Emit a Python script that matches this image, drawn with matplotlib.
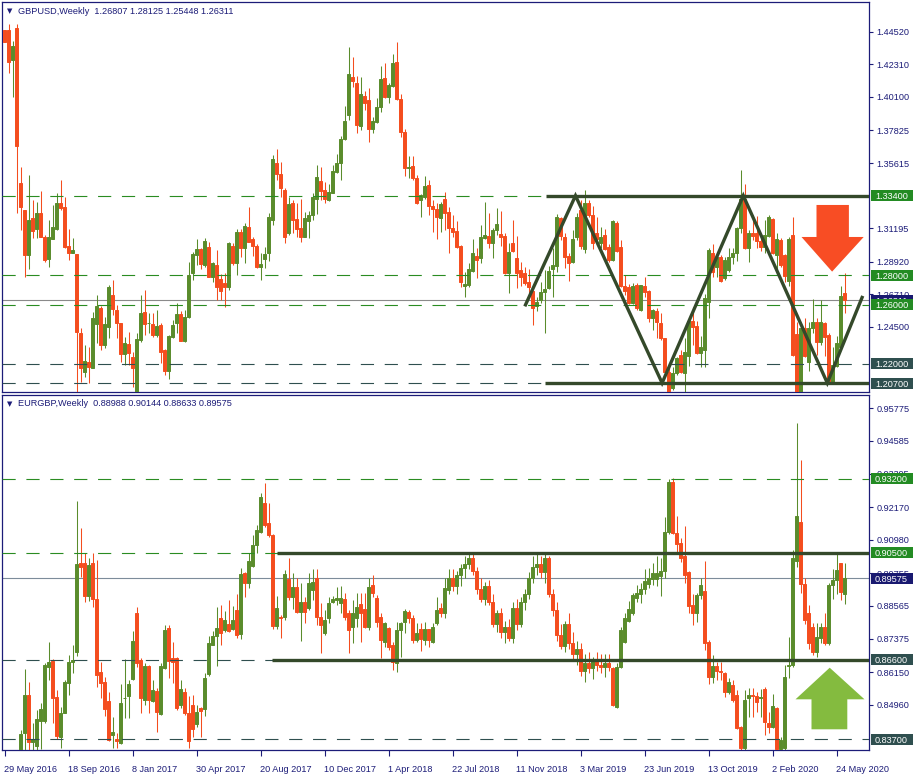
import numpy as np
import matplotlib
matplotlib.use('Agg')
import matplotlib.pyplot as plt
from matplotlib.patches import Polygon, Rectangle
from matplotlib.transforms import blended_transform_factory

# ---- GBPUSD weekly (index 0 = week of 29 May 2016) ----
gbp_open = [
    1.4464, 1.4464, 1.4260, 1.4475, 1.3426, 1.3243, 1.2938, 1.3187, 1.3114, 1.3221,
    1.3062, 1.2913, 1.3044, 1.3114, 1.3293, 1.3264, 1.2999, 1.2954, 1.2945, 1.2411,
    1.2147, 1.2215, 1.2174, 1.2470, 1.2581, 1.2328, 1.2452, 1.2667, 1.2565, 1.2479,
    1.2267, 1.2335, 1.2244, 1.2005, 1.2362, 1.2554, 1.2475, 1.2470, 1.2396, 1.2463,
    1.2294, 1.2154, 1.2380, 1.2479, 1.2536, 1.2357, 1.2520, 1.2818, 1.2938, 1.2977,
    1.2870, 1.2990, 1.2791, 1.2870, 1.2773, 1.2751, 1.2723, 1.2999, 1.2882, 1.3094,
    1.2983, 1.3130, 1.3044, 1.2999, 1.2859, 1.2909, 1.2954, 1.3175, 1.3564, 1.3485,
    1.3379, 1.3089, 1.3288, 1.3182, 1.3121, 1.3062, 1.3171, 1.3209, 1.3316, 1.3440,
    1.3379, 1.3311, 1.3361, 1.3503, 1.3560, 1.3722, 1.3887, 1.4143, 1.4102, 1.3813,
    1.4016, 1.3989, 1.3790, 1.3842, 1.3939, 1.4136, 1.4012, 1.4084, 1.4247, 1.3994,
    1.3772, 1.3526, 1.3542, 1.3458, 1.3311, 1.3334, 1.3410, 1.3270, 1.3250, 1.3187,
    1.3316, 1.3230, 1.3119, 1.3103, 1.2999, 1.2728, 1.2735, 1.2832, 1.2931, 1.2915,
    1.3051, 1.3067, 1.3022, 1.3108, 1.3080, 1.3067, 1.2814, 1.3017, 1.2915, 1.2836,
    1.2818, 1.2757, 1.2696, 1.2592, 1.2633, 1.2685, 1.2712, 1.2841, 1.2863, 1.3187,
    1.3058, 1.2931, 1.2893, 1.3062, 1.3243, 1.2977, 1.3293, 1.3209, 1.3085, 1.3022,
    1.3074, 1.2990, 1.2904, 1.3157, 1.2990, 1.2728, 1.2719, 1.2615, 1.2735, 1.2565,
    1.2728, 1.2694, 1.2509, 1.2561, 1.2479, 1.2373, 1.2147, 1.2034, 1.2140, 1.2260,
    1.2140, 1.2253, 1.2493, 1.2457, 1.2276, 1.2294, 1.2622, 1.2949, 1.2859, 1.2927,
    1.2780, 1.2836, 1.2927, 1.2950, 1.3119, 1.3316, 1.2983, 1.3085, 1.3085, 1.3035,
    1.2990, 1.3067, 1.3180, 1.2938, 1.3040, 1.2938, 1.2764, 1.3074, 1.2400, 1.1630,
    1.2441, 1.2215, 1.2441, 1.2486, 1.2351, 1.2479, 1.2396, 1.2079, 1.2186, 1.2317,
    1.26807]
gbp_high = [
    1.4464, 1.4504, 1.4389, 1.4504, 1.3537, 1.3243, 1.3480, 1.3311, 1.3295, 1.3372,
    1.3074, 1.3175, 1.3279, 1.3356, 1.3447, 1.3334, 1.3112, 1.3051, 1.2945, 1.2441,
    1.2328, 1.2317, 1.2549, 1.2667, 1.2592, 1.2520, 1.2735, 1.2769, 1.2599, 1.2479,
    1.2380, 1.2418, 1.2283, 1.2407, 1.2667, 1.2701, 1.2543, 1.2543, 1.2565, 1.2475,
    1.2298, 1.2396, 1.2497, 1.2615, 1.2558, 1.2565, 1.2893, 1.2961, 1.3044, 1.2983,
    1.3051, 1.3029, 1.2893, 1.2972, 1.2809, 1.2814, 1.3029, 1.3017, 1.3112, 1.3112,
    1.3157, 1.3266, 1.3058, 1.3010, 1.2949, 1.2990, 1.3225, 1.3616, 1.3654, 1.3566,
    1.3390, 1.3334, 1.3311, 1.3288, 1.3316, 1.3230, 1.3239, 1.3361, 1.3548, 1.3537,
    1.3435, 1.3420, 1.3548, 1.3621, 1.3745, 1.3948, 1.4351, 1.4278, 1.4152, 1.4143,
    1.4052, 1.4068, 1.3876, 1.4000, 1.4220, 1.4242, 1.4107, 1.4301, 1.4382, 1.4030,
    1.3790, 1.3612, 1.3609, 1.3480, 1.3352, 1.3474, 1.3447, 1.3311, 1.3288, 1.3295,
    1.3365, 1.3266, 1.3209, 1.3171, 1.3006, 1.2825, 1.2882, 1.3044, 1.2983, 1.3142,
    1.3300, 1.3221, 1.3119, 1.3255, 1.3236, 1.3085, 1.3022, 1.3175, 1.3067, 1.2893,
    1.2859, 1.2841, 1.2701, 1.2656, 1.2757, 1.2836, 1.2866, 1.2983, 1.3216, 1.3198,
    1.3085, 1.2949, 1.3108, 1.3221, 1.3311, 1.3379, 1.3311, 1.3270, 1.3198, 1.3126,
    1.3112, 1.3010, 1.3175, 1.3171, 1.3040, 1.2803, 1.2741, 1.2751, 1.2751, 1.2735,
    1.2787, 1.2701, 1.2570, 1.2577, 1.2543, 1.2373, 1.2181, 1.2181, 1.2249, 1.2294,
    1.2373, 1.2502, 1.2583, 1.2493, 1.2389, 1.2674, 1.2983, 1.3013, 1.2949, 1.2938,
    1.2927, 1.2983, 1.2983, 1.3130, 1.3514, 1.3420, 1.3108, 1.3209, 1.3203, 1.3074,
    1.3175, 1.3209, 1.3187, 1.3085, 1.3051, 1.2945, 1.3058, 1.3194, 1.2485, 1.2452,
    1.2509, 1.2486, 1.2637, 1.2509, 1.2633, 1.2486, 1.2407, 1.2317, 1.2389, 1.2728,
    1.28125]
gbp_low = [
    1.4384, 1.4174, 1.4012, 1.3221, 1.3108, 1.2787, 1.2841, 1.3051, 1.3051, 1.3058,
    1.2888, 1.2859, 1.3044, 1.3108, 1.3243, 1.2983, 1.2904, 1.2949, 1.1841, 1.2079,
    1.2113, 1.2073, 1.2170, 1.2339, 1.2294, 1.2305, 1.2373, 1.2531, 1.2373, 1.2215,
    1.2192, 1.2192, 1.2045, 1.1986, 1.2351, 1.2396, 1.2407, 1.2384, 1.2384, 1.2204,
    1.2125, 1.2095, 1.2373, 1.2407, 1.2357, 1.2351, 1.2509, 1.2769, 1.2870, 1.2841,
    1.2859, 1.2787, 1.2757, 1.2633, 1.2633, 1.2588, 1.2701, 1.2870, 1.2803, 1.2927,
    1.2882, 1.3029, 1.2931, 1.2848, 1.2769, 1.2848, 1.2900, 1.3142, 1.3447, 1.3334,
    1.3022, 1.3074, 1.3085, 1.3062, 1.3029, 1.3058, 1.3056, 1.3175, 1.3214, 1.3311,
    1.3288, 1.3306, 1.3356, 1.3492, 1.3447, 1.3718, 1.3853, 1.4079, 1.3763, 1.3786,
    1.3921, 1.3707, 1.3763, 1.3835, 1.3910, 1.4000, 1.3966, 1.4075, 1.3989, 1.3740,
    1.3474, 1.3458, 1.3447, 1.3284, 1.3198, 1.3316, 1.3209, 1.3096, 1.3044, 1.3092,
    1.3108, 1.2949, 1.3062, 1.2983, 1.2719, 1.2651, 1.2719, 1.2825, 1.2780, 1.2886,
    1.3044, 1.2983, 1.2915, 1.3074, 1.2999, 1.2809, 1.2683, 1.2961, 1.2712, 1.2728,
    1.2735, 1.2678, 1.2463, 1.2561, 1.2611, 1.2407, 1.2705, 1.2656, 1.2825, 1.3040,
    1.2848, 1.2764, 1.2882, 1.3040, 1.2977, 1.2954, 1.3198, 1.2977, 1.3029, 1.2983,
    1.2972, 1.2893, 1.2900, 1.2961, 1.2723, 1.2667, 1.2606, 1.2606, 1.2565, 1.2561,
    1.2656, 1.2486, 1.2430, 1.2373, 1.2362, 1.2136, 1.2005, 1.2023, 1.2125, 1.2136,
    1.2005, 1.2186, 1.2328, 1.2267, 1.2181, 1.2181, 1.2509, 1.2791, 1.2791, 1.2757,
    1.2769, 1.2825, 1.2880, 1.2900, 1.3085, 1.2977, 1.2893, 1.3040, 1.2983, 1.2967,
    1.2949, 1.3062, 1.2945, 1.2841, 1.2859, 1.2757, 1.2728, 1.2253, 1.1409, 1.1450,
    1.2249, 1.2154, 1.2407, 1.2260, 1.2328, 1.2253, 1.2073, 1.2068, 1.2181, 1.2305,
    1.25448]
gbp_close = [
    1.4384, 1.4249, 1.4355, 1.3679, 1.3261, 1.2938, 1.3175, 1.3101, 1.3225, 1.3062,
    1.2904, 1.3062, 1.3130, 1.3293, 1.3255, 1.2990, 1.2954, 1.2972, 1.2418, 1.2174,
    1.2219, 1.2181, 1.2513, 1.2592, 1.2328, 1.2468, 1.2723, 1.2570, 1.2479, 1.2267,
    1.2339, 1.2276, 1.2170, 1.2366, 1.2543, 1.2470, 1.2479, 1.2396, 1.2457, 1.2283,
    1.2154, 1.2389, 1.2463, 1.2536, 1.2357, 1.2520, 1.2803, 1.2945, 1.2977, 1.2877,
    1.3035, 1.2791, 1.2882, 1.2723, 1.2696, 1.2719, 1.3017, 1.2882, 1.3096, 1.2983,
    1.3135, 1.3029, 1.2999, 1.2859, 1.2877, 1.2945, 1.3194, 1.3587, 1.3485, 1.3390,
    1.3062, 1.3284, 1.3175, 1.3114, 1.3062, 1.3187, 1.3209, 1.3334, 1.3465, 1.3372,
    1.3318, 1.3363, 1.3508, 1.3560, 1.3722, 1.3847, 1.4165, 1.4120, 1.3820, 1.4030,
    1.3966, 1.3790, 1.3847, 1.3939, 1.4131, 1.4007, 1.4091, 1.4242, 1.3994, 1.3774,
    1.3526, 1.3537, 1.3458, 1.3288, 1.3345, 1.3406, 1.3273, 1.3252, 1.3198, 1.3284,
    1.3225, 1.3119, 1.3092, 1.2995, 1.2757, 1.2742, 1.2843, 1.2954, 1.2904, 1.3058,
    1.3074, 1.3022, 1.3108, 1.3148, 1.3058, 1.2818, 1.2961, 1.2967, 1.2818, 1.2791,
    1.2746, 1.2719, 1.2577, 1.2622, 1.2690, 1.2710, 1.2832, 1.2870, 1.3198, 1.3067,
    1.2927, 1.2882, 1.3044, 1.3194, 1.2999, 1.3288, 1.3209, 1.3022, 1.3044, 1.3058,
    1.2977, 1.2904, 1.3171, 1.2967, 1.2728, 1.2696, 1.2615, 1.2728, 1.2577, 1.2735,
    1.2690, 1.2509, 1.2565, 1.2486, 1.2373, 1.2147, 1.2012, 1.2140, 1.2238, 1.2147,
    1.2283, 1.2493, 1.2452, 1.2271, 1.2317, 1.2644, 1.2972, 1.2825, 1.2927, 1.2764,
    1.2904, 1.2927, 1.2950, 1.3119, 1.3316, 1.2983, 1.3085, 1.3067, 1.3035, 1.2990,
    1.3074, 1.3198, 1.2949, 1.3044, 1.2870, 1.2796, 1.3044, 1.2260, 1.1630, 1.2441,
    1.2253, 1.2441, 1.2486, 1.2351, 1.2486, 1.2384, 1.2079, 1.2192, 1.2339, 1.2660,
    1.26311]

# ---- EURGBP weekly ----
eur_open = [
    0.7630, 0.7610, 0.7870, 0.7640, 0.8230, 0.8394, 0.8532, 0.8361, 0.8346, 0.8437,
    0.8438, 0.8635, 0.8657, 0.8524, 0.8380, 0.8467, 0.8577, 0.8653, 0.8690, 0.9012,
    0.9012, 0.8894, 0.9012, 0.8881, 0.8617, 0.8578, 0.8510, 0.8386, 0.8370, 0.8355,
    0.8519, 0.8528, 0.8589, 0.8832, 0.8659, 0.8513, 0.8637, 0.8511, 0.8546, 0.8462,
    0.8629, 0.8775, 0.8665, 0.8665, 0.8495, 0.8544, 0.8467, 0.8495, 0.8425, 0.8483,
    0.8479, 0.8608, 0.8714, 0.8747, 0.8811, 0.8769, 0.8791, 0.8771, 0.8842, 0.8754,
    0.8978, 0.8939, 0.9002, 0.9079, 0.9128, 0.9233, 0.9160, 0.9115, 0.8783, 0.8817,
    0.8815, 0.8954, 0.8890, 0.8927, 0.8836, 0.8872, 0.8848, 0.8915, 0.8960, 0.8815,
    0.8757, 0.8811, 0.8872, 0.8878, 0.8866, 0.8881, 0.8830, 0.8781, 0.8811, 0.8864,
    0.8844, 0.8781, 0.8933, 0.8884, 0.8815, 0.8726, 0.8775, 0.8714, 0.8649, 0.8769,
    0.8799, 0.8836, 0.8811, 0.8732, 0.8771, 0.8732, 0.8771, 0.8726, 0.8795, 0.8848,
    0.8830, 0.8915, 0.8960, 0.8930, 0.8970, 0.8995, 0.9010, 0.9030, 0.8985, 0.8920,
    0.8880, 0.8930, 0.8870, 0.8790, 0.8830, 0.8760, 0.8780, 0.8740, 0.8850, 0.8790,
    0.8870, 0.8900, 0.8960, 0.9000, 0.9010, 0.8980, 0.9030, 0.8900, 0.8840, 0.8750,
    0.8710, 0.8790, 0.8720, 0.8680, 0.8700, 0.8620, 0.8650, 0.8630, 0.8660, 0.8640,
    0.8633, 0.8647, 0.8629, 0.8489, 0.8633, 0.8726, 0.8803, 0.8830, 0.8884, 0.8900,
    0.8917, 0.8937, 0.8953, 0.8955, 0.8965, 0.8985, 0.9127, 0.9310, 0.9124, 0.9085,
    0.9039, 0.8981, 0.8860, 0.8830, 0.8896, 0.8911, 0.8726, 0.8598, 0.8637, 0.8620,
    0.8611, 0.8544, 0.8568, 0.8532, 0.8416, 0.8340, 0.8519, 0.8532, 0.8528, 0.8520,
    0.8552, 0.8431, 0.8416, 0.8483, 0.8335, 0.8340, 0.8637, 0.8641, 0.9020, 0.9164,
    0.8937, 0.8830, 0.8781, 0.8690, 0.8738, 0.8781, 0.8720, 0.8933, 0.8951, 0.9014,
    0.88988]
eur_high = [
    0.7700, 0.7890, 0.7950, 0.8311, 0.8404, 0.8625, 0.8579, 0.8428, 0.8477, 0.8501,
    0.8647, 0.8724, 0.8662, 0.8550, 0.8489, 0.8586, 0.8678, 0.8714, 0.9241, 0.9140,
    0.9051, 0.9030, 0.9048, 0.9024, 0.8653, 0.8599, 0.8544, 0.8453, 0.8392, 0.8572,
    0.8662, 0.8586, 0.8766, 0.8854, 0.8668, 0.8650, 0.8641, 0.8586, 0.8558, 0.8647,
    0.8787, 0.8787, 0.8726, 0.8672, 0.8586, 0.8556, 0.8528, 0.8532, 0.8495, 0.8489,
    0.8613, 0.8747, 0.8766, 0.8854, 0.8860, 0.8839, 0.8878, 0.8856, 0.8900, 0.8994,
    0.8982, 0.9048, 0.9115, 0.9152, 0.9267, 0.9304, 0.9231, 0.9119, 0.8893, 0.8823,
    0.8988, 0.9030, 0.8975, 0.8960, 0.8939, 0.8890, 0.8975, 0.8990, 0.8990, 0.8866,
    0.8842, 0.8890, 0.8893, 0.8927, 0.8929, 0.8903, 0.8842, 0.8878, 0.8903, 0.8903,
    0.8903, 0.8960, 0.8970, 0.8896, 0.8830, 0.8799, 0.8781, 0.8726, 0.8799, 0.8799,
    0.8844, 0.8842, 0.8823, 0.8793, 0.8793, 0.8799, 0.8771, 0.8793, 0.8890, 0.8866,
    0.8960, 0.8990, 0.8990, 0.8985, 0.9010, 0.9040, 0.9050, 0.9045, 0.9000, 0.8960,
    0.8945, 0.8950, 0.8900, 0.8840, 0.8850, 0.8800, 0.8810, 0.8870, 0.8880, 0.8890,
    0.8920, 0.8980, 0.9040, 0.9050, 0.9040, 0.9050, 0.9040, 0.8920, 0.8870, 0.8790,
    0.8800, 0.8830, 0.8760, 0.8730, 0.8720, 0.8680, 0.8690, 0.8670, 0.8690, 0.8680,
    0.8681, 0.8681, 0.8633, 0.8647, 0.8778, 0.8830, 0.8876, 0.8905, 0.8933, 0.8939,
    0.8990, 0.8994, 0.9012, 0.9040, 0.9030, 0.9180, 0.9318, 0.9322, 0.9185, 0.9103,
    0.9148, 0.8985, 0.8900, 0.8903, 0.8960, 0.9022, 0.8732, 0.8678, 0.8653, 0.8653,
    0.8617, 0.8592, 0.8586, 0.8550, 0.8420, 0.8550, 0.8556, 0.8558, 0.8544, 0.8552,
    0.8562, 0.8471, 0.8534, 0.8489, 0.8380, 0.8641, 0.8744, 0.9060, 0.9525, 0.9389,
    0.8960, 0.8860, 0.8793, 0.8793, 0.8793, 0.8830, 0.8939, 0.8990, 0.9048, 0.9014,
    0.90144]
eur_low = [
    0.7590, 0.7600, 0.7630, 0.7620, 0.8180, 0.8300, 0.8300, 0.8310, 0.8310, 0.8336,
    0.8428, 0.8586, 0.8428, 0.8370, 0.8337, 0.8465, 0.8532, 0.8611, 0.8675, 0.8963,
    0.8872, 0.8876, 0.8854, 0.8562, 0.8520, 0.8455, 0.8362, 0.8337, 0.8337, 0.8353,
    0.8447, 0.8447, 0.8586, 0.8635, 0.8467, 0.8495, 0.8467, 0.8507, 0.8398, 0.8459,
    0.8625, 0.8592, 0.8574, 0.8477, 0.8483, 0.8459, 0.8337, 0.8380, 0.8416, 0.8380,
    0.8455, 0.8601, 0.8714, 0.8637, 0.8714, 0.8763, 0.8763, 0.8769, 0.8738, 0.8735,
    0.8890, 0.8921, 0.9000, 0.9048, 0.9124, 0.9146, 0.9109, 0.8771, 0.8771, 0.8738,
    0.8805, 0.8878, 0.8844, 0.8830, 0.8730, 0.8793, 0.8842, 0.8878, 0.8787, 0.8686,
    0.8751, 0.8793, 0.8866, 0.8860, 0.8830, 0.8805, 0.8684, 0.8720, 0.8781, 0.8726,
    0.8775, 0.8769, 0.8890, 0.8781, 0.8665, 0.8708, 0.8696, 0.8623, 0.8617, 0.8671,
    0.8757, 0.8793, 0.8720, 0.8726, 0.8693, 0.8714, 0.8708, 0.8722, 0.8787, 0.8817,
    0.8811, 0.8900, 0.8910, 0.8900, 0.8930, 0.8960, 0.8990, 0.8970, 0.8900, 0.8870,
    0.8860, 0.8860, 0.8780, 0.8760, 0.8740, 0.8720, 0.8730, 0.8720, 0.8770, 0.8780,
    0.8840, 0.8880, 0.8940, 0.8970, 0.8960, 0.8940, 0.8890, 0.8820, 0.8730, 0.8700,
    0.8690, 0.8700, 0.8660, 0.8640, 0.8600, 0.8580, 0.8610, 0.8590, 0.8620, 0.8610,
    0.8598, 0.8620, 0.8491, 0.8485, 0.8629, 0.8720, 0.8799, 0.8823, 0.8872, 0.8868,
    0.8900, 0.8921, 0.8933, 0.8930, 0.8893, 0.8960, 0.9120, 0.9120, 0.9046, 0.9018,
    0.8939, 0.8830, 0.8787, 0.8799, 0.8880, 0.8696, 0.8572, 0.8574, 0.8586, 0.8586,
    0.8523, 0.8535, 0.8507, 0.8406, 0.8277, 0.8330, 0.8450, 0.8452, 0.8471, 0.8453,
    0.8386, 0.8392, 0.8410, 0.8300, 0.8310, 0.8320, 0.8592, 0.8635, 0.9000, 0.8902,
    0.8790, 0.8700, 0.8678, 0.8671, 0.8720, 0.8714, 0.8714, 0.8880, 0.8900, 0.8878,
    0.88633]
eur_close = [
    0.7610, 0.7870, 0.7640, 0.8230, 0.8389, 0.8532, 0.8361, 0.8370, 0.8444, 0.8479,
    0.8640, 0.8653, 0.8520, 0.8383, 0.8465, 0.8578, 0.8653, 0.8659, 0.9008, 0.8999,
    0.8894, 0.9006, 0.8882, 0.8605, 0.8574, 0.8479, 0.8368, 0.8398, 0.8365, 0.8504,
    0.8520, 0.8572, 0.8730, 0.8647, 0.8520, 0.8637, 0.8513, 0.8550, 0.8471, 0.8637,
    0.8769, 0.8657, 0.8653, 0.8483, 0.8552, 0.8467, 0.8365, 0.8406, 0.8471, 0.8475,
    0.8592, 0.8723, 0.8747, 0.8777, 0.8757, 0.8805, 0.8766, 0.8805, 0.8751, 0.8972,
    0.8939, 0.9022, 0.9079, 0.9134, 0.9255, 0.9152, 0.9115, 0.8783, 0.8848, 0.8811,
    0.8973, 0.8890, 0.8927, 0.8836, 0.8872, 0.8836, 0.8940, 0.8945, 0.8817, 0.8787,
    0.8805, 0.8866, 0.8881, 0.8884, 0.8884, 0.8817, 0.8769, 0.8830, 0.8854, 0.8830,
    0.8781, 0.8927, 0.8903, 0.8799, 0.8732, 0.8793, 0.8708, 0.8653, 0.8769, 0.8795,
    0.8839, 0.8811, 0.8732, 0.8757, 0.8735, 0.8771, 0.8732, 0.8781, 0.8842, 0.8830,
    0.8921, 0.8960, 0.8930, 0.8970, 0.8995, 0.9010, 0.9030, 0.8985, 0.8920, 0.8880,
    0.8930, 0.8870, 0.8790, 0.8830, 0.8760, 0.8780, 0.8740, 0.8850, 0.8790, 0.8870,
    0.8900, 0.8960, 0.9000, 0.9010, 0.8980, 0.9030, 0.8900, 0.8840, 0.8750, 0.8710,
    0.8790, 0.8720, 0.8680, 0.8700, 0.8620, 0.8650, 0.8630, 0.8660, 0.8640, 0.8633,
    0.8647, 0.8633, 0.8494, 0.8633, 0.8769, 0.8811, 0.8844, 0.8896, 0.8902, 0.8917,
    0.8948, 0.8957, 0.8975, 0.8975, 0.8985, 0.9127, 0.9310, 0.9124, 0.9082, 0.9030,
    0.8969, 0.8858, 0.8830, 0.8896, 0.8933, 0.8720, 0.8596, 0.8637, 0.8620, 0.8617,
    0.8544, 0.8580, 0.8513, 0.8410, 0.8340, 0.8513, 0.8532, 0.8527, 0.8507, 0.8526,
    0.8434, 0.8416, 0.8491, 0.8335, 0.8367, 0.8598, 0.8641, 0.9030, 0.9185, 0.8937,
    0.8805, 0.8720, 0.8690, 0.8744, 0.8781, 0.8720, 0.8933, 0.8951, 0.8988, 0.8909,
    0.89575]

# time axis labels (every 16 weeks)
date_idx = [0, 16, 32, 48, 64, 80, 96, 112, 128, 144, 160, 176, 192, 208]
date_labels = ['29 May 2016', '18 Sep 2016', '8 Jan 2017', '30 Apr 2017',
               '20 Aug 2017', '10 Dec 2017', '1 Apr 2018', '22 Jul 2018',
               '11 Nov 2018', '3 Mar 2019', '23 Jun 2019', '13 Oct 2019',
               '2 Feb 2020', '24 May 2020']

gbp_ticks = [1.44520, 1.42310, 1.40100, 1.37825, 1.35615, 1.31195, 1.28920,
             1.26710, 1.24500]
eur_ticks = [0.95775, 0.94585, 0.93395, 0.92170, 0.90980, 0.89755, 0.88565,
             0.87375, 0.86150, 0.84960]

# horizontal levels: (price, colour kind)
gbp_levels = [(1.33400, 'green'), (1.28000, 'green'), (1.26000, 'green'),
              (1.22000, 'slate'), (1.20700, 'slate')]
eur_levels = [(0.93200, 'green'), (0.90500, 'green'), (0.86600, 'slate'),
              (0.83700, 'slate')]
gbp_last = 1.26311
eur_last = 0.89575

# zig-zag channel drawn on GBPUSD (week index, price)
zig_x = [130.25, 142.75, 164.4, 184.7, 205.7, 214.4]
zig_y = [1.2600, 1.3340, 1.2070, 1.3340, 1.2070, 1.2650]

assert all(len(v) == 211 for v in (gbp_open, gbp_high, gbp_low, gbp_close,
                                    eur_open, eur_high, eur_low, eur_close))

W, H = 915, 779
NAVY = '#1c1c78'
UP = '#5a8c2c'
DOWN = '#f44d1e'
LVL = {'green': '#2a8c22', 'slate': '#2f4f4f'}
BOX = {'green': '#238b23', 'slate': '#2f4f4f'}
THICK = '#34492a'

plt.rcParams['font.family'] = ['Liberation Sans', 'DejaVu Sans']
plt.rcParams['lines.scale_dashes'] = False
FS = 6.6

fig = plt.figure(figsize=(W / 100, H / 100), dpi=100)


def panel(top, bottom):
    return fig.add_axes([2 / W, 1 - bottom / H, 867 / W, (bottom - top) / H])


ax1 = panel(2, 392)
ax2 = panel(395, 750)


def draw_candles(ax, o, h, l, c):
    o, h, l, c = (np.asarray(v, dtype=float) for v in (o, h, l, c))
    x = np.arange(len(o))
    col = np.where(c >= o, UP, DOWN)
    ax.vlines(x, l, h, colors=col, linewidth=0.75, zorder=3)
    ax.bar(x, np.abs(c - o), bottom=np.minimum(o, c), width=0.6,
           color=col, edgecolor=col, linewidth=0.7, zorder=3)


def style(ax, ticks, ylim):
    ax.set_xlim(-0.625, 216.125)
    ax.set_ylim(*ylim)
    for s in ax.spines.values():
        s.set_color(NAVY)
        s.set_linewidth(0.9)
    ax.yaxis.tick_right()
    ax.set_yticks(ticks)
    ax.set_yticklabels(['%.5f' % t for t in ticks])
    ax.tick_params(axis='y', length=3, width=0.8, colors=NAVY,
                   labelsize=FS, pad=2.5)


def level_lines(ax, levels, last, last_col):
    ax.axhline(last, color=last_col, lw=0.8, zorder=2)
    for p, kind in levels:
        ax.axhline(p, color=LVL[kind], lw=0.8, dashes=(9.5, 7.7), zorder=4)


def label_box(ax, price, fc, z):
    # box on the price scale, 11 px tall; later boxes cover earlier ones
    px_per_unit = ax.bbox.height / (ax.get_ylim()[1] - ax.get_ylim()[0])
    hh = 5.5 / px_per_unit
    tr = blended_transform_factory(fig.transFigure, ax.transData)
    fig.add_artist(Rectangle((871 / W, price - hh), 42 / W, 2 * hh,
                             transform=tr, fc=fc, ec='none', zorder=z))
    fig.text(875 / W, price, '%.5f' % price, transform=tr, ha='left',
             va='center_baseline', fontsize=FS, color='white', zorder=z + 0.5)


draw_candles(ax1, gbp_open, gbp_high, gbp_low, gbp_close)
draw_candles(ax2, eur_open, eur_high, eur_low, eur_close)
style(ax1, gbp_ticks, (1.2009, 1.4653))
style(ax2, eur_ticks, (0.83309, 0.96260))
ax1.tick_params(axis='x', bottom=False, labelbottom=False)

level_lines(ax1, gbp_levels, gbp_last, '#8a8a8a')
level_lines(ax2, eur_levels, eur_last, '#7d8c9a')

# thick support/resistance segments
ax1.hlines([1.3340], 135.25, 216.2, color=THICK, lw=2.4, zorder=5)
ax1.hlines([1.2070], 135.0, 216.2, color=THICK, lw=2.4, zorder=5)
ax2.hlines([0.9050], 68.0, 216.2, color=THICK, lw=2.4, zorder=5)
ax2.hlines([0.8660], 66.75, 216.2, color=THICK, lw=2.4, zorder=5)

ax1.plot(zig_x, zig_y, color=THICK, lw=2.4, zorder=5, solid_joinstyle='miter')

# arrows
ax1.add_patch(Polygon([(203, 1.3277), (211.1, 1.3277), (211.1, 1.3060),
                       (214.8, 1.3060), (206.9, 1.2825), (199.25, 1.3060),
                       (203, 1.3060)], closed=True, fc='#f84d24', ec='none',
                      zorder=6))
ax2.add_patch(Polygon([(201.75, 0.84064), (210.7, 0.84064), (210.7, 0.85158),
                       (215, 0.85158), (206.3, 0.86311), (197.75, 0.85158),
                       (201.75, 0.85158)], closed=True, fc='#84bb3f', ec='none',
                      zorder=6))

# price boxes on the right scale (current price first, levels on top)
z = 10
for ax, last, levels in ((ax1, gbp_last, gbp_levels), (ax2, eur_last, eur_levels)):
    label_box(ax, last, '#191970', z)
    z += 1
    for p, kind in levels:
        label_box(ax, p, BOX[kind], z)
        z += 1

# time axis
ax2.set_xticks(date_idx)
ax2.set_xticklabels(date_labels)
ax2.tick_params(axis='x', length=4, width=0.8, colors=NAVY, labelsize=FS,
                pad=6.5)
for t in ax2.get_xticklabels():
    t.set_ha('left')

# panel titles
for y, txt in ((11, 'GBPUSD,Weekly  1.26807 1.28125 1.25448 1.26311'),
               (404, 'EURGBP,Weekly  0.88988 0.90144 0.88633 0.89575')):
    fig.text(10 / W, 1 - y / H, '\u25bc', fontsize=5, color=NAVY,
             ha='center', va='center', family=['DejaVu Sans'])
    fig.text(18 / W, 1 - y / H, txt, fontsize=FS, color=NAVY,
             ha='left', va='center')

fig.savefig('out.png', dpi=100, facecolor='white')
